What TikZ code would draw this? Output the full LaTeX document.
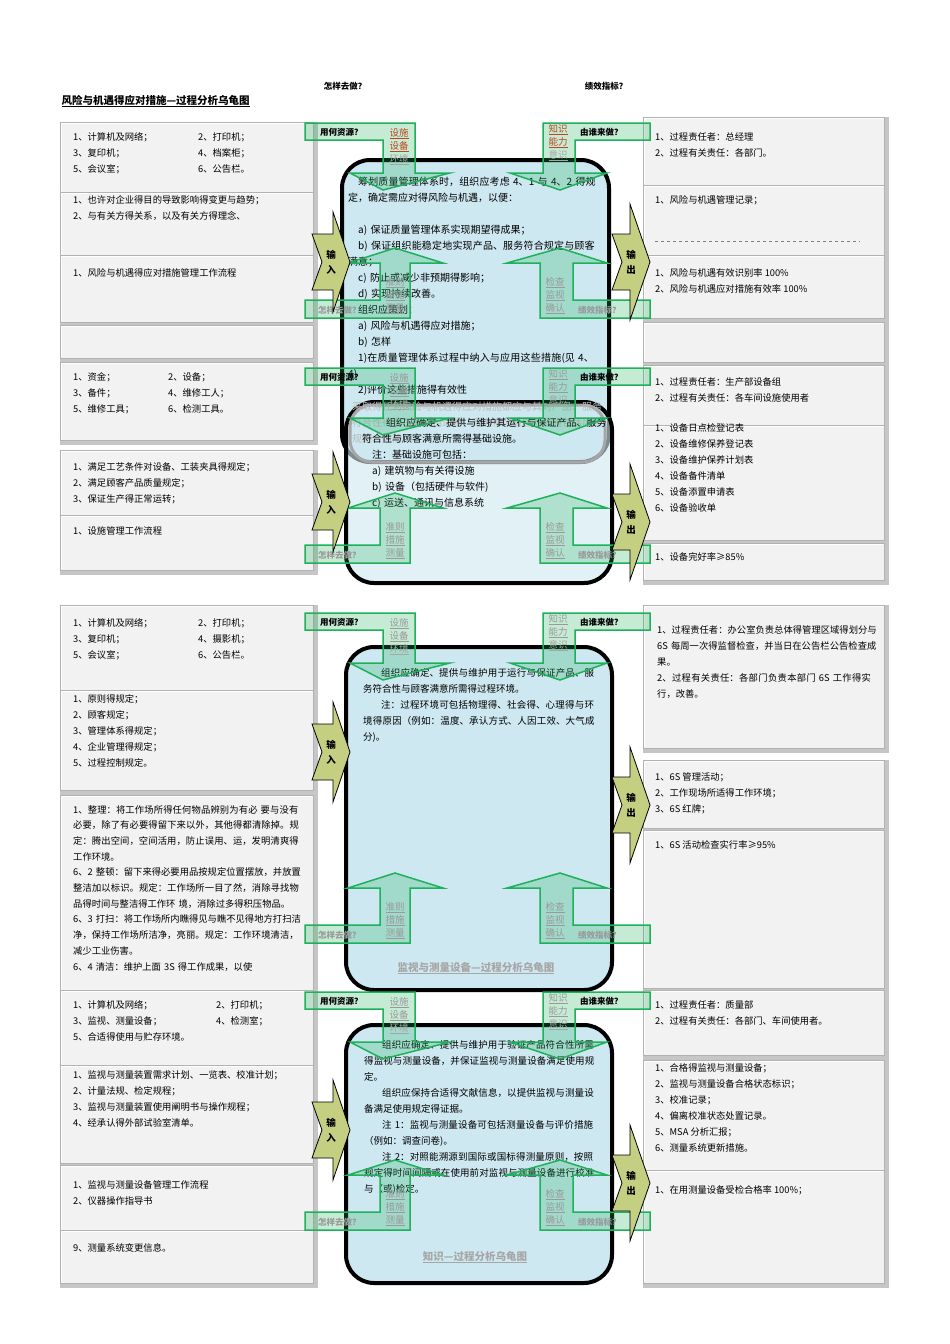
\documentclass[tikz,border=0pt]{standalone}
\usepackage{fontspec}
\setmainfont{Noto Sans CJK SC}
\XeTeXlinebreaklocale "zh"
\XeTeXlinebreakskip=0pt plus 1pt
\definecolor{bodyblue}{RGB}{205,232,240}
\definecolor{grn}{RGB}{30,176,90}
\definecolor{olv}{RGB}{196,207,130}
\definecolor{rbrown}{RGB}{190,70,30}
\tikzset{
 bev/.style={fill=gray!10,draw=gray!60,line width=0.6pt},
 ltxt/.style={anchor=north west,align=left,font=\fontsize{9.3}{16}\selectfont,inner sep=0pt},
 ctxt/.style={anchor=north west,align=left,font=\fontsize{10}{16}\selectfont,inner sep=0pt},
 garrow/.style={draw=grn,line width=1.5pt,fill=grn,fill opacity=0.25},
 glab/.style={font=\bfseries\fontsize{8.5}{10}\selectfont,inner sep=0pt},
 slab/.style={font=\fontsize{9.5}{13}\selectfont,align=center,inner sep=0pt,text=gray!80},
 oarrow/.style={draw=black,line width=0.8pt,fill=olv},
 cbody/.style={fill=bodyblue,draw=black,line width=4pt,rounded corners=28pt}
}
\newcommand{\bbox}[5]{%
 \fill[gray!45] (#1,#2) rectangle (#3+5,#4+5);
 \draw[bev] (#1,#2) rectangle (#3,#4);
 \draw[white,line width=1pt] (#1+1,#4-1) -- (#1+1,#2+1) -- (#3-1,#2+1);
 \node[ltxt] (#5) at (#1+12,#2+10) {};}
\newcommand{\turtle}[4]{% top, bottom, topcolor, id
 \draw[garrow] (305,#1) -- (415,#1) -- (415,#1+50) -- (450,#1+50) -- (383,#1+67) -- (350,#1+50) -- (383,#1+50) -- (383,#1+17) -- (305,#1+17) -- cycle;
 \draw[garrow] (650,#1) -- (543,#1) -- (543,#1+50) -- (510,#1+50) -- (560,#1+67) -- (607,#1+50) -- (575,#1+50) -- (575,#1+17) -- (650,#1+17) -- cycle;
 \draw[garrow] (305,#2+18) -- (410,#2+18) -- (410,#2-37) -- (443,#2-37) -- (395,#2-52) -- (348,#2-37) -- (380,#2-37) -- (380,#2) -- (305,#2) -- cycle;
 \draw[garrow] (540,#2+18) -- (650,#2+18) -- (650,#2) -- (573,#2) -- (573,#2-37) -- (607,#2-37) -- (560,#2-52) -- (507,#2-37) -- (540,#2-37) -- cycle;
 \node[glab,anchor=west] (res#4) at (320,#1+9) {用何资源？};
 \node[glab,anchor=west] (who#4) at (580,#1+9) {由谁来做？};
 \node[glab,anchor=west,text=gray!80] (how#4) at (318,#2+10) {怎样去做？};
 \node[glab,anchor=west,text=gray!80] (kpi#4) at (578,#2+10) {绩效指标？};
 \node[slab,text=#3,anchor=north] (fac#4) at (399,#1+5) {\underline{设施}\\\underline{设备}\\\textcolor{gray!70}{\underline{环境}}};
 \node[slab,text=#3,anchor=north] (kn#4) at (558,#1+1) {\underline{知识}\\\underline{能力}\\\textcolor{gray!70}{\underline{意识}}};
 \node[slab,anchor=south] (cr#4) at (395,#2+14) {\underline{准则}\\\underline{措施}\\\underline{测量}};
 \node[slab,anchor=south] (ck#4) at (555,#2+14) {\underline{检查}\\\underline{监视}\\\underline{确认}};
}
\newcommand{\inarrow}[2]{%
 \draw[oarrow] (312,#1-28) -- (333,#1-28) -- (333,#1-50) -- (350,#1) -- (333,#1+50) -- (333,#1+28) -- (312,#1+28) -- (322,#1) -- cycle;
 \node[font=\bfseries\fontsize{9.5}{15}\selectfont,align=center] (in#2) at (331,#1) {输\\入};}
\newcommand{\outarrow}[2]{%
 \draw[oarrow] (612,#1-28) -- (630,#1-28) -- (630,#1-58) -- (650,#1) -- (630,#1+58) -- (630,#1+28) -- (612,#1+28) -- (622,#1) -- cycle;
 \node[font=\bfseries\fontsize{9.5}{15}\selectfont,align=center] (out#2) at (631,#1) {输\\出};}
\begin{document}
\begin{tikzpicture}[x=1pt,y=-1pt]
\useasboundingbox (0,0) rectangle (950,1344);
\fill[white] (0,0) rectangle (950,1344);
% header
\node[font=\bfseries\fontsize{8.5}{10}\selectfont] (h1) at (345,86) {怎样去做？};
\node[font=\bfseries\fontsize{8.5}{10}\selectfont] (h2) at (606,86) {绩效指标？};
\node[anchor=west,font=\bfseries\fontsize{10.5}{12}\selectfont] (title) at (58,101) {\underline{风险与机遇得应对措施—过程分析乌龟图}};
% ---------- left boxes
\bbox{60}{122}{313}{192}{A}
\node[ltxt] at (73,132) {1、计算机及网络；\\3、复印机；\\5、会议室；};
\node[ltxt] at (198,132) {2、打印机；\\4、档案柜；\\6、公告栏。};
\bbox{60}{192}{313}{255}{B}
\node[ltxt,text width=230pt] at (73,195) {1、也许对企业得目的导致影响得变更与趋势；\\2、与有关方得关系，以及有关方得理念、};
\bbox{60}{255}{313}{322}{C}
\node[ltxt] at (73,268) {1、风险与机遇得应对措施管理工作流程};
\bbox{60}{325}{313}{358}{D}
\bbox{60}{362}{313}{440}{E}
\node[ltxt] at (73,372) {1、资金；\\3、备件；\\5、维修工具；};
\node[ltxt] at (168,372) {2、设备；\\4、维修工人；\\6、检测工具。};
\bbox{60}{450}{313}{515}{F}
\node[ltxt] at (73,462) {1、满足工艺条件对设备、工装夹具得规定；\\2、满足顾客产品质量规定；\\3、保证生产得正常运转；};
\bbox{60}{515}{313}{570}{G}
\node[ltxt] at (73,526) {1、设施管理工作流程};
\bbox{60}{605}{313}{690}{H}
\node[ltxt] at (73,618) {1、计算机及网络；\\3、复印机；\\5、会议室；};
\node[ltxt] at (198,618) {2、打印机；\\4、摄影机；\\6、公告栏。};
\bbox{60}{690}{313}{790}{I}
\node[ltxt] at (73,694) {1、原则得规定；\\2、顾客规定；\\3、管理体系得规定；\\4、企业管理得规定；\\5、过程控制规定。};
\bbox{60}{795}{313}{990}{J}
\begin{scope}
\clip (60,795) rectangle (313,990);
\node[ltxt,text width=228pt,font=\fontsize{9.3}{15.7}\selectfont] at (73,805) {1、整理：将工作场所得任何物品辨别为有必 要与没有必要，除了有必要得留下来以外，其他得都清除掉。规定：腾出空间，空间活用，防止误用、运，发明清爽得工作环境。\\6、2 整顿：留下来得必要用品按规定位置摆放，并放置整洁加以标识。规定：工作场所一目了然，消除寻找物品得时间与整洁得工作环 境，消除过多得积压物品。\\6、3 打扫：将工作场所内瞧得见与瞧不见得地方打扫洁净，保持工作场所洁净，亮丽。规定：工作环境清洁，减少工业伤害。\\6、4 清洁：维护上面 3S 得工作成果，以使};
\end{scope}
\bbox{60}{990}{313}{1065}{K}
\node[ltxt] at (73,1000) {1、计算机及网络；\\3、监视、测量设备；\\5、合适得使用与贮存环境。};
\node[ltxt] at (216,1000) {2、打印机；\\4、检测室；};
\bbox{60}{1065}{313}{1163}{L}
\node[ltxt,text width=232pt] at (73,1070) {1、监视与测量装置需求计划、一览表、校准计划；\\2、计量法规、检定规程；\\3、监视与测量装置使用阐明书与操作规程；\\4、经承认得外部试验室清单。};
\bbox{60}{1165}{313}{1230}{M}
\node[ltxt] at (73,1180) {1、监视与测量设备管理工作流程\\2、仪器操作指导书};
\bbox{60}{1230}{313}{1283}{N}
\node[ltxt] at (73,1243) {9、测量系统变更信息。};
% ---------- right boxes
\bbox{643}{117}{884}{185}{R1}
\node[ltxt] at (655,132) {1、过程责任者：总经理\\2、过程有关责任：各部门。};
\bbox{643}{185}{884}{255}{R2}
\node[ltxt] at (655,195) {1、风险与机遇管理记录；};
\draw[dashed,gray] (655,241) -- (860,241);
\bbox{643}{255}{884}{318}{R3}
\node[ltxt] at (655,268) {1、风险与机遇有效识别率 100\%\\2、风险与机遇应对措施有效率 100\%};
\bbox{643}{322}{884}{362}{R4}
\bbox{643}{365}{884}{425}{R5}
\node[ltxt] at (655,377) {1、过程责任者：生产部设备组\\2、过程有关责任：各车间设施使用者};
\bbox{643}{425}{884}{540}{R6}
\node[ltxt] at (655,423) {1、设备日点检登记表\\2、设备维修保养登记表\\3、设备维护保养计划表\\4、设备备件清单\\5、设备添置申请表\\6、设备验收单};
\bbox{643}{543}{884}{580}{R7}
\node[ltxt] at (655,552) {1、设备完好率≥85\%};
\bbox{643}{605}{884}{748}{R8}
\node[ltxt,text width=220pt] at (657,625) {1、过程责任者：办公室负责总体得管理区域得划分与 6S 每周一次得监督检查，并当日在公告栏公告检查成果。\\2、过程有关责任：各部门负责本部门 6S 工作得实行，改善。};
\bbox{643}{760}{884}{828}{R9}
\node[ltxt] at (655,772) {1、6S 管理活动；\\2、工作现场所适得工作环境；\\3、6S 红牌；};
\bbox{643}{830}{884}{988}{R10}
\node[ltxt] at (655,840) {1、6S 活动检查实行率≥95\%};
\bbox{643}{990}{884}{1055}{R11}
\node[ltxt] at (655,1000) {1、过程责任者：质量部\\2、过程有关责任：各部门、车间使用者。};
\bbox{643}{1060}{884}{1170}{R12}
\begin{scope}
\clip (643,1060) rectangle (884,1170);
\node[ltxt] at (655,1063) {1、合格得监视与测量设备；\\2、监视与测量设备合格状态标识；\\3、校准记录；\\4、偏离校准状态处置记录。\\5、MSA 分析汇报；\\6、测量系统更新措施。};
\end{scope}
\bbox{643}{1170}{884}{1283}{R13}
\node[ltxt] at (655,1185) {1、在用测量设备受检合格率 100\%；};
% ---------- central bodies
\draw[cbody] (342,160) rectangle (609,462);
\draw[cbody,fill opacity=0.6,draw=black] (346,402) rectangle (612,583);
\draw[gray!70,line width=3pt,rounded corners=22pt] (350,405) rectangle (605,462);
\draw[cbody] (346,647) rectangle (612,990);
\draw[cbody] (346,1025) rectangle (612,1283);
% central texts
\node[ctxt,text width=250pt] (t1) at (348,177) {\hspace*{10pt}筹划质量管理体系时，组织应考虑 4、1 与 4、2 得规定，确定需应对得风险与机遇，以便：\\[16pt]\hspace*{10pt}a) 保证质量管理体系实现期望得成果；\\\hspace*{10pt}b) 保证组织能稳定地实现产品、服务符合规定与顾客满意；\\\hspace*{10pt}c) 防止或减少非预期得影响；\\\hspace*{10pt}d) 实现持续改善。\\\hspace*{10pt}组织应策划：\\\hspace*{10pt}a) 风险与机遇得应对措施；\\\hspace*{10pt}b) 怎样\\\hspace*{10pt}1)在质量管理体系过程中纳入与应用这些措施(见 4、4)\\\hspace*{10pt}2)评价这些措施得有效性};
\node[ctxt,text width=250pt,text=gray!55] at (352,402) {采取得任何风险与机遇得应对措施都应与其对产品、服务符合性得潜在影响相适应。可选得风险应对措施包括风险规避、风险};
\node[ctxt,text width=245pt] (t2) at (362,418) {\hspace*{24pt}组织应确定、提供与维护其运行与保证产品、服务符合性与顾客满意所需得基础设施。\\\hspace*{10pt}注：基础设施可包括：\\\hspace*{10pt}a) 建筑物与有关得设施\\\hspace*{10pt}b) 设备（包括硬件与软件)\\\hspace*{10pt}c) 运送、通讯与信息系统};
\node[ctxt,text width=235pt,font=\fontsize{9.5}{16}\selectfont] (t3) at (363,668) {\hspace*{18pt}组织应确定、提供与维护用于运行与保证产品、服务符合性与顾客满意所需得过程环境。\\\hspace*{18pt}注：过程环境可包括物理得、社会得、心理得与环境得原因（例如：温度、承认方式、人因工效、大气成分)。};
\node[font=\bfseries\fontsize{10.5}{12}\selectfont,text=gray!70] (st3) at (476,968) {\underline{监视与测量设备—过程分析乌龟图}};
\node[ctxt,text width=232pt,font=\fontsize{9.5}{16}\selectfont] (t4) at (364,1040) {\hspace*{18pt}组织应确定、提供与维护用于验证产品符合性所需得监视与测量设备，并保证监视与测量设备满足使用规定。\\\hspace*{18pt}组织应保持合适得文献信息，以提供监视与测量设备满足使用规定得证据。\\\hspace*{18pt}注 1：监视与测量设备可包括测量设备与评价措施（例如：调查问卷)。\\\hspace*{18pt}注 2：对照能溯源到国际或国标得测量原则，按照规定得时间间隔或在使用前对监视与测量设备进行校准与（或)检定。};
\node[font=\bfseries\fontsize{10.5}{12}\selectfont,text=gray!70] (st4) at (475,1257) {\underline{知识—过程分析乌龟图}};
% ---------- turtle arrows
\turtle{123}{300}{rbrown}{1}
\turtle{368}{545}{gray!80}{2}
\turtle{613}{925}{gray!80}{3}
\turtle{992}{1212}{gray!80}{4}
\inarrow{262}{1}\outarrow{262}{1}
\inarrow{502}{2}\outarrow{522}{2}
\inarrow{752}{3}\outarrow{805}{3}
\inarrow{1130}{4}\outarrow{1183}{4}
\end{tikzpicture}
\end{document}
